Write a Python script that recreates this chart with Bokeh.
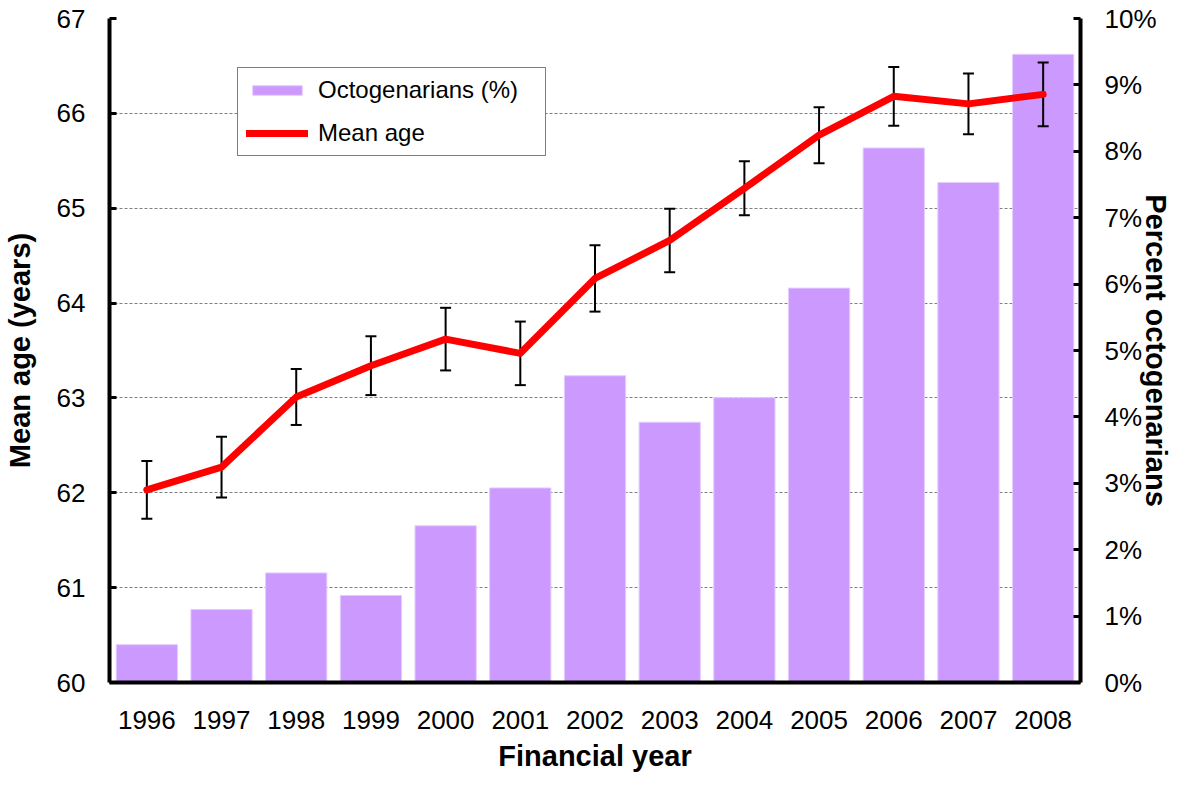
from bokeh.plotting import figure
from bokeh.models import (ColumnDataSource, FactorRange, Range1d, LinearAxis, FixedTicker,
                          PrintfTickFormatter, Legend, LegendItem)
from bokeh.embed import file_html
from bokeh.resources import INLINE

years = ["1996", "1997", "1998", "1999", "2000", "2001", "2002",
         "2003", "2004", "2005", "2006", "2007", "2008"]
octogenarians_pct = [0.57, 1.10, 1.65, 1.31, 2.36, 2.93, 4.62, 3.92, 4.29, 5.94, 8.05, 7.53, 9.46]
mean_age = [62.03, 62.27, 63.01, 63.34, 63.62, 63.47, 64.26, 64.66, 65.21, 65.77, 66.18, 66.10, 66.20]
age_err = [0.305, 0.32, 0.295, 0.31, 0.33, 0.335, 0.35, 0.335, 0.285, 0.295, 0.31, 0.32, 0.335]
age_ticks = [60, 61, 62, 63, 64, 65, 66, 67]
pct_ticks = [0, 1, 2, 3, 4, 5, 6, 7, 8, 9, 10]

FONT = "Liberation Sans"

src = ColumnDataSource(dict(
    year=years,
    pct=octogenarians_pct,
    age=mean_age,
    upper=[a + e for a, e in zip(mean_age, age_err)],
    lower=[a - e for a, e in zip(mean_age, age_err)],
))

p = figure(x_range=FactorRange(factors=years), y_range=Range1d(60, 67),
           width=1174, height=777, output_backend="svg", toolbar_location=None,
           min_border_left=105, min_border_right=90, min_border_top=18, min_border_bottom=95)
p.extra_y_ranges = {"pct": Range1d(0, 10)}
p.outline_line_color = None
p.background_fill_color = "white"
p.border_fill_color = "white"

bars = p.vbar(x="year", top="pct", bottom=0, width=0.82, source=src, y_range_name="pct",
              fill_color="#CC99FF", line_color="#E4CCFF", line_width=1)
p.segment(x0="year", y0="lower", x1="year", y1="upper", source=src,
          line_color="black", line_width=2)
p.scatter(x="year", y="upper", source=src, marker="dash", size=11,
          line_color="black", line_width=2)
p.scatter(x="year", y="lower", source=src, marker="dash", size=11,
          line_color="black", line_width=2)
line = p.line(x="year", y="age", source=src, line_color="#FF0000", line_width=7,
              line_join="round", line_cap="round")

# grid
p.xgrid.grid_line_color = None
p.ygrid.grid_line_color = "#808080"
p.ygrid.grid_line_dash = "3 2"
p.ygrid.grid_line_width = 1

# left axis
ya = p.yaxis[0]
ya.ticker = FixedTicker(ticks=age_ticks)
ya.axis_label = "Mean age (years)"
ya.axis_line_width = 4
ya.axis_line_color = "black"
ya.major_tick_in = 7
ya.major_tick_out = 0
ya.major_tick_line_width = 3
ya.minor_tick_line_color = None
ya.major_label_standoff = 24
ya.axis_label_standoff = 18
ya.major_label_text_font = FONT
ya.major_label_text_font_size = "26px"
ya.major_label_text_color = "black"
ya.axis_label_text_font = FONT
ya.axis_label_text_font_size = "29px"
ya.axis_label_text_font_style = "bold"
ya.axis_label_text_color = "black"

# bottom axis
xa = p.xaxis[0]
xa.axis_line_width = 4
xa.axis_line_color = "black"
xa.major_tick_line_color = None
xa.minor_tick_line_color = None
xa.major_label_standoff = 22
xa.axis_label = "Financial year"
xa.axis_label_standoff = 8
xa.major_label_text_font = FONT
xa.major_label_text_font_size = "26px"
xa.major_label_text_color = "black"
xa.axis_label_text_font = FONT
xa.axis_label_text_font_size = "29px"
xa.axis_label_text_font_style = "bold"
xa.axis_label_text_color = "black"

# right axis
ra = LinearAxis(y_range_name="pct", ticker=FixedTicker(ticks=pct_ticks),
                formatter=PrintfTickFormatter(format="%d%%"),
                axis_label="Percent octogenarians")
ra.axis_line_width = 4
ra.axis_line_color = "black"
ra.major_tick_in = 7
ra.major_tick_out = 0
ra.major_tick_line_width = 3
ra.minor_tick_line_color = None
ra.major_label_standoff = 24
ra.axis_label_standoff = -20
ra.axis_label_orientation = "vertical"
ra.major_label_text_font = FONT
ra.major_label_text_font_size = "26px"
ra.major_label_text_color = "black"
ra.axis_label_text_font = FONT
ra.axis_label_text_font_size = "29px"
ra.axis_label_text_font_style = "bold"
ra.axis_label_text_color = "black"
p.add_layout(ra, "right")

legend = Legend(items=[LegendItem(label="Octogenarians (%)", renderers=[bars]),
                       LegendItem(label="Mean age", renderers=[line])],
                location=(128, 526))
legend.padding = 8
legend.spacing = 15
legend.margin = 0
legend.glyph_width = 62
legend.glyph_height = 12
legend.label_height = 28
legend.label_width = 219
legend.label_standoff = 10
legend.label_text_font = FONT
legend.label_text_font_size = "24px"
legend.label_text_color = "black"
legend.border_line_color = "black"
legend.border_line_width = 1
legend.background_fill_color = "white"
legend.background_fill_alpha = 1
p.add_layout(legend, "center")

open("out.html", "w").write(file_html(p, INLINE))
